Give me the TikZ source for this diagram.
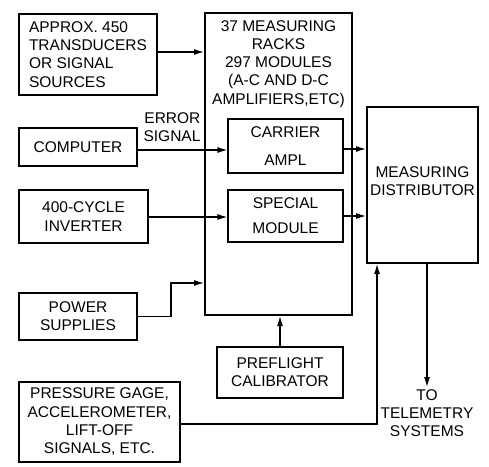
\documentclass[tikz,border=0pt]{standalone}
\usepackage{fontspec}
\setmainfont{Liberation Sans}
\usepackage{tikz}
\usetikzlibrary{arrows.meta, positioning}

\begin{document}
\begin{tikzpicture}[
      x=1pt, y=-1pt,
      font=\fontsize{15.5}{18.3}\selectfont,
      box/.style={draw, line width=2pt, align=center, inner sep=2pt},
      inbox/.style={box, line width=1.2pt},
      lbl/.style={align=center, inner sep=2pt},
      arrow/.style={-{Latex[length=10pt, width=6pt]}, line width=1.2pt}
    ]
      \useasboundingbox (0,0) rectangle (489,466);
      % sources on the left
      \node[box, align=left, minimum width=138pt, minimum height=81pt] (approx) at (88,54.5) {APPROX. 450\\TRANSDUCERS\\OR SIGNAL\\SOURCES};
      \node[box, minimum width=118pt, minimum height=38pt] (computer) at (78,147) {COMPUTER};
      \node[box, minimum width=129pt, minimum height=53pt] (inverter) at (83.5,216.5) {400-CYCLE\\INVERTER};
      \node[box, minimum width=118pt, minimum height=47pt] (power) at (78,316.5) {POWER\\SUPPLIES};
      \node[box, minimum width=161pt, minimum height=80pt] (pressure) at (99.5,422) {PRESSURE GAGE,\\ACCELEROMETER,\\LIFT-OFF\\SIGNALS, ETC.};
      % measuring racks
      \node[box, minimum width=147pt, minimum height=302pt] (racks) at (278.5,164) {};
      \node[lbl, below=6pt of racks.north] (rackstxt) {37 MEASURING\\RACKS\\297 MODULES\\(A-C AND D-C\\AMPLIFIERS,ETC)};
      \node[inbox, minimum width=115pt, minimum height=54pt] (carrier) at (285.5,146) {CARRIER\\[9pt]AMPL};
      \node[inbox, minimum width=115pt, minimum height=52pt] (special) at (285.5,216) {SPECIAL\\[7pt]MODULE};
      \node[box, minimum width=126pt, minimum height=51pt] (preflight) at (280,372.5) {PREFLIGHT\\CALIBRATOR};
      % distributor
      \node[box, minimum width=111pt, minimum height=156pt] (dist) at (422.5,185) {};
      \node[lbl] (disttxt) at (422.5,181) {MEASURING\\DISTRIBUTOR};
      \node[lbl, align=right] (errsig) at (172,127) {ERROR\\SIGNAL};
      \node[lbl, anchor=north] (tele) at (427,387) {TO\\TELEMETRY\\SYSTEMS};
      % connectors
      \draw[arrow] (approx.east |- 0,52) -- (racks.west |- 0,52);
      \draw[arrow] (computer.east |- 0,150) -- (carrier.west |- 0,150);
      \draw[arrow] (inverter.east |- 0,217) -- (special.west |- 0,217);
      \draw[arrow] (power.east) -- ++(33,0) |- (racks.west |- 0,283);
      \draw[arrow] (preflight.north) -- (racks.south -| preflight.north);
      \draw[arrow] (carrier.east |- 0,149) -- (dist.west |- 0,149);
      \draw[arrow] (special.east) -- (dist.west |- special.east);
      \draw[arrow] (pressure.east |- 0,424) -| (dist.south -| 377,0);
      \draw[arrow] (dist.south -| 427,0) -- (tele.north);
    \end{tikzpicture}
\end{document}
